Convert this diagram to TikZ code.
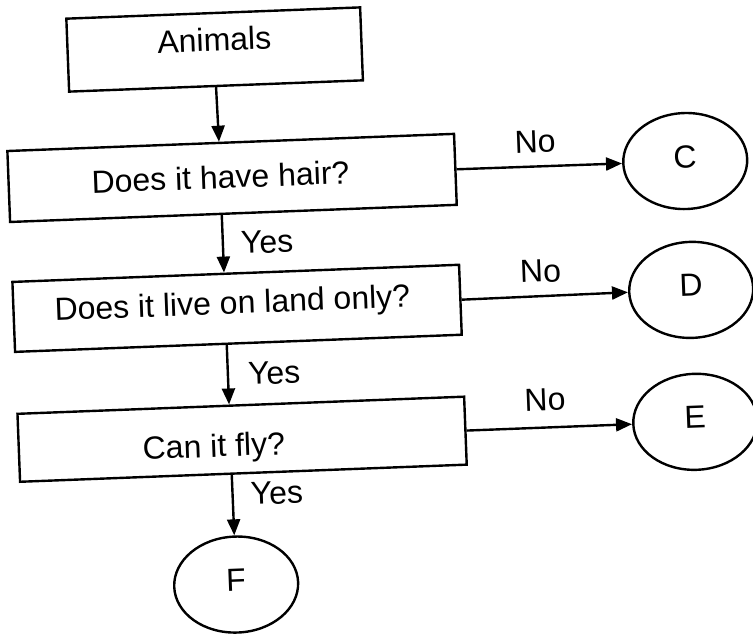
\documentclass[tikz,border=0pt]{standalone}
\usepackage{fontspec}
\setmainfont{Liberation Sans}
\usetikzlibrary{arrows.meta,shapes.geometric,calc}
\begin{document}
\begin{tikzpicture}[x=1pt,y=-1pt,
  every node/.style={font=\fontsize{32}{38}\selectfont},
  box/.style={draw,line width=2.4pt,rectangle,inner sep=0pt},
  term/.style={draw,line width=2.4pt,ellipse,minimum width=124pt,minimum height=96pt,inner sep=0pt},
  arr/.style={line width=2.4pt,-{Triangle[length=16pt,width=13pt]}},
  lbl/.style={inner sep=0pt}]
\useasboundingbox (0,0) rectangle (753,635);
\begin{scope}[rotate around={2.2:(376,317)},transform shape]
\node[box,minimum width=294pt,minimum height=73pt,label={[lbl,yshift=10pt]center:Animals}] (a) at (225,43.5) {};
\node[box,minimum width=447pt,minimum height=71pt,label={[lbl,xshift=-11.5pt,yshift=1.5pt]center:Does it have hair?}] (h) at (237.5,172.5) {};
\node[box,minimum width=447pt,minimum height=70pt,label={[lbl,xshift=-4.5pt,yshift=3pt]center:Does it live on land only?}] (l) at (237.5,303) {};
\node[box,minimum width=447pt,minimum height=68pt,label={[lbl,xshift=-28.5pt,yshift=-8.5pt]center:Can it fly?}] (f) at (237.5,434) {};
\node[term,label={[lbl,yshift=4pt]center:C}] (c) at (691,173) {};
\node[term,label={[lbl,yshift=5pt]center:D}] (d) at (692,302) {};
\node[term,label={[lbl,yshift=5pt]center:E}] (e) at (691,434) {};
\node[term,label={[lbl,yshift=4pt]center:F}] (fin) at (226,579) {};
\draw[arr] (a.south) -- ($(h.north west)!0.474!(h.north east)$);
\draw[arr] ($(h.south west)!0.474!(h.south east)$) -- node[lbl,right=17pt]{Yes} ($(l.north west)!0.474!(l.north east)$);
\draw[arr] ($(l.south west)!0.474!(l.south east)$) -- node[lbl,right=19pt]{Yes} ($(f.north west)!0.474!(f.north east)$);
\draw[arr] ($(f.south west)!0.474!(f.south east)$) -- node[lbl,right=17pt,pos=0.33]{Yes} (fin.north);
\draw[arr] (h.east) -- node[lbl,above=12.5pt,pos=0.48]{No} (c.west);
\draw[arr] (l.east) -- node[lbl,above=12.5pt,pos=0.48]{No} (d.west);
\draw[arr] (f.east) -- node[lbl,above=15pt,pos=0.48]{No} (e.west);
\end{scope}
\end{tikzpicture}
\end{document}
